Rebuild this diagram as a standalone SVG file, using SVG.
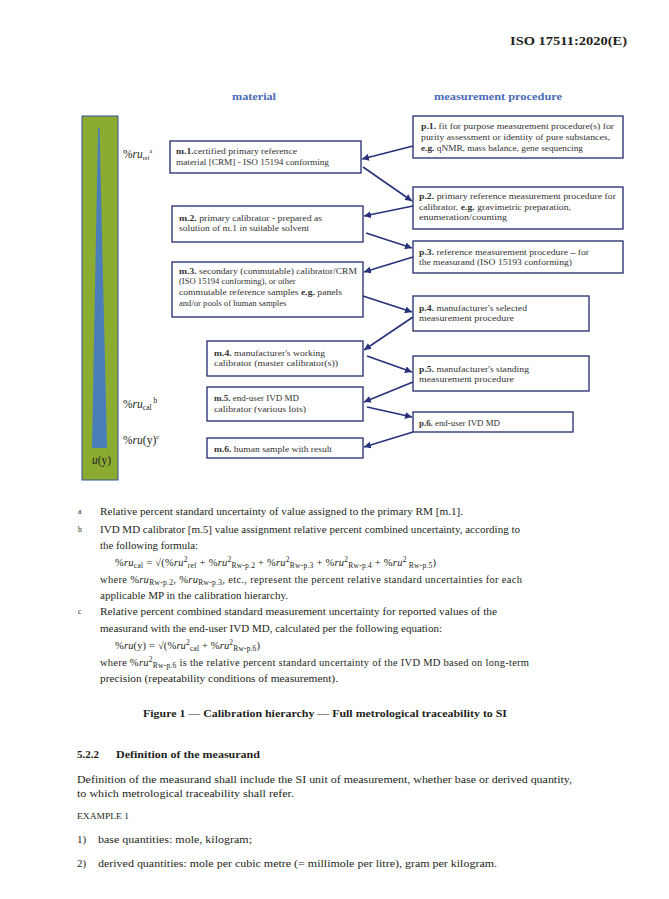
<svg xmlns="http://www.w3.org/2000/svg" width="669" height="899" viewBox="0 0 669 899">
<style>
text{font-family:"Liberation Serif","Times New Roman",serif;fill:#231f20}
.bx{fill:#fff;stroke:#1f2a6e;stroke-width:1.3}
.bt{font-size:8.6px;fill:#333}
.b{font-weight:bold}
.hd{font-size:11px;font-weight:bold;fill:#4a6cb8}
.fn{font-size:10.5px}
.mk{font-size:7.5px}
.lb{font-size:11.5px}
.i{font-style:italic}
.body{font-size:11px}
.con{stroke:#27327a;stroke-width:1.6;fill:none;marker-end:url(#ah)}
</style>
<defs>
<marker id="ah" markerUnits="userSpaceOnUse" markerWidth="8" markerHeight="7" refX="7" refY="3.5" orient="auto">
<path d="M0,0 L7,3.5 L0,7 z" fill="#27327a"/>
</marker>
</defs>
<rect width="669" height="899" fill="#fff"/>
<text x="510" y="45" font-size="13.5" font-weight="bold" textLength="117" lengthAdjust="spacingAndGlyphs">ISO 17511:2020(E)</text>

<text class="hd" x="232" y="100" textLength="44" lengthAdjust="spacingAndGlyphs">material</text>
<text class="hd" x="434" y="100" textLength="128" lengthAdjust="spacingAndGlyphs">measurement procedure</text>

<g id="bar">
<rect x="82" y="116" width="36" height="364" fill="#8cab31" stroke="#2f5597" stroke-width="1"/>
<polygon points="98,128 99.5,128 107,448 92,448" fill="#4a7ebb"/>
<text x="92" y="464" font-size="11.5" textLength="19" lengthAdjust="spacingAndGlyphs"><tspan class="i">u</tspan>(y)</text>
</g>
<g id="labels">
<text class="lb" x="123" y="158">%<tspan class="i">ru</tspan><tspan font-size="6" dy="2">ref</tspan><tspan font-size="6" dy="-7">a</tspan></text>
<text class="lb" x="123" y="408">%<tspan class="i">ru</tspan><tspan font-size="7.5" dy="2">cal</tspan><tspan font-size="7.5" dy="-7"> b</tspan></text>
<text class="lb" x="123" y="444">%<tspan class="i">ru</tspan>(y)<tspan font-size="7" dy="-5">c</tspan></text>
</g>

<g id="m1"><rect class="bx" x="170" y="141" width="191" height="32"/>
<text class="bt" x="176" y="154" textLength="121" lengthAdjust="spacingAndGlyphs"><tspan class="b">m.1.</tspan>certified primary reference</text>
<text class="bt" x="176" y="165" textLength="153" lengthAdjust="spacingAndGlyphs">material [CRM] - ISO 15194 conforming</text></g>

<g id="m2"><rect class="bx" x="172" y="206" width="191" height="36"/>
<text class="bt" x="179" y="221" textLength="143" lengthAdjust="spacingAndGlyphs"><tspan class="b">m.2.</tspan> primary calibrator <tspan class="b">-</tspan> prepared as</text>
<text class="bt" x="179" y="231" textLength="130" lengthAdjust="spacingAndGlyphs">solution of m.1 in suitable solvent</text></g>

<g id="m3"><rect class="bx" x="172" y="262" width="191" height="55"/>
<text class="bt" x="179" y="274" textLength="178" lengthAdjust="spacingAndGlyphs"><tspan class="b">m.3.</tspan> secondary (commutable) calibrator/CRM</text>
<text class="bt" x="179" y="284">(ISO 15194 conforming), or other</text>
<text class="bt" x="179" y="295" textLength="163" lengthAdjust="spacingAndGlyphs">commutable reference samples <tspan class="b">e.g.</tspan> panels</text>
<text class="bt" x="179" y="306">and/or pools of human samples</text></g>

<g id="m4"><rect class="bx" x="207" y="341" width="156" height="35"/>
<text class="bt" x="214" y="356" textLength="111" lengthAdjust="spacingAndGlyphs"><tspan class="b">m.4.</tspan> manufacturer's working</text>
<text class="bt" x="214" y="366" textLength="124" lengthAdjust="spacingAndGlyphs">calibrator (master calibrator(s))</text></g>

<g id="m5"><rect class="bx" x="207" y="387" width="156" height="34"/>
<text class="bt" x="214" y="401" textLength="85" lengthAdjust="spacingAndGlyphs"><tspan class="b">m.5.</tspan> end<tspan class="b">-</tspan>user IVD MD</text>
<text class="bt" x="214" y="412" textLength="92" lengthAdjust="spacingAndGlyphs">calibrator (various lots)</text></g>

<g id="m6"><rect class="bx" x="207" y="438" width="156" height="20"/>
<text class="bt" x="214" y="452" textLength="118" lengthAdjust="spacingAndGlyphs"><tspan class="b">m.6.</tspan> human sample with result</text></g>

<g id="p1"><rect class="bx" x="413" y="116" width="210" height="42"/>
<text class="bt" x="421" y="129" textLength="193" lengthAdjust="spacingAndGlyphs"><tspan class="b">p.1.</tspan> fit for purpose measurement procedure(s) for</text>
<text class="bt" x="421" y="140" textLength="189" lengthAdjust="spacingAndGlyphs">purity assessment or identity of pure substances,</text>
<text class="bt" x="421" y="151" textLength="162" lengthAdjust="spacingAndGlyphs"><tspan class="b">e.g.</tspan> qNMR, mass balance, gene sequencing</text></g>

<g id="p2"><rect class="bx" x="413" y="187" width="210" height="42"/>
<text class="bt" x="419" y="199" textLength="197" lengthAdjust="spacingAndGlyphs"><tspan class="b">p.2.</tspan> primary reference measurement procedure for</text>
<text class="bt" x="419" y="210" textLength="152" lengthAdjust="spacingAndGlyphs">calibrator, <tspan class="b">e.g.</tspan> gravimetric preparation,</text>
<text class="bt" x="419" y="220" textLength="88" lengthAdjust="spacingAndGlyphs">enumeration/counting</text></g>

<g id="p3"><rect class="bx" x="413" y="241" width="210" height="32"/>
<text class="bt" x="419" y="255" textLength="170" lengthAdjust="spacingAndGlyphs"><tspan class="b">p.3.</tspan> reference measurement procedure <tspan class="b">–</tspan> for</text>
<text class="bt" x="419" y="265" textLength="153" lengthAdjust="spacingAndGlyphs">the measurand (ISO 15193 conforming)</text></g>

<g id="p4"><rect class="bx" x="413" y="296" width="176" height="35"/>
<text class="bt" x="419" y="311" textLength="108" lengthAdjust="spacingAndGlyphs"><tspan class="b">p.4.</tspan> manufacturer's selected</text>
<text class="bt" x="419" y="321" textLength="95" lengthAdjust="spacingAndGlyphs">measurement procedure</text></g>

<g id="p5"><rect class="bx" x="413" y="356" width="176" height="35"/>
<text class="bt" x="419" y="372" textLength="110" lengthAdjust="spacingAndGlyphs"><tspan class="b">p.5.</tspan> manufacturer's standing</text>
<text class="bt" x="419" y="382" textLength="95" lengthAdjust="spacingAndGlyphs">measurement procedure</text></g>

<g id="p6"><rect class="bx" x="413" y="412" width="160" height="20"/>
<text class="bt" x="419" y="426" textLength="81" lengthAdjust="spacingAndGlyphs"><tspan class="b">p.6.</tspan> end<tspan class="b">-</tspan>user IVD MD</text></g>

<g id="connectors">
<line class="con" x1="413" y1="146" x2="362" y2="159"/>
<line class="con" x1="363" y1="167" x2="412" y2="201"/>
<line class="con" x1="413" y1="206" x2="364" y2="216"/>
<line class="con" x1="366" y1="233" x2="412" y2="248"/>
<line class="con" x1="413" y1="257" x2="364" y2="272"/>
<line class="con" x1="363" y1="296" x2="412" y2="312"/>
<line class="con" x1="413" y1="317" x2="364" y2="350"/>
<line class="con" x1="367" y1="356" x2="412" y2="372"/>
<line class="con" x1="413" y1="382" x2="364" y2="402"/>
<line class="con" x1="367" y1="407" x2="412" y2="417"/>
<line class="con" x1="413" y1="432" x2="364" y2="447"/>
</g>

<g id="footnotes">
<text class="mk" x="78" y="514">a</text>
<text class="fn" x="100" y="515" textLength="363" lengthAdjust="spacingAndGlyphs">Relative percent standard uncertainty of value assigned to the primary RM [m.1].</text>
<text class="mk" x="78" y="532">b</text>
<text class="fn" x="100" y="533" textLength="420" lengthAdjust="spacingAndGlyphs">IVD MD calibrator [m.5] value assignment relative percent combined uncertainty, according to</text>
<text class="fn" x="100" y="549" textLength="98" lengthAdjust="spacingAndGlyphs">the following formula:</text>
<text class="fn" x="115" y="566" textLength="321" lengthAdjust="spacing">%<tspan class="i">ru</tspan><tspan font-size="7.5" dy="2">cal</tspan><tspan dy="-2"> = √(%</tspan><tspan class="i">ru</tspan><tspan font-size="7.5" dy="-4">2</tspan><tspan font-size="7.5" dy="6">ref</tspan><tspan dy="-2"> + %</tspan><tspan class="i">ru</tspan><tspan font-size="7.5" dy="-4">2</tspan><tspan font-size="7.5" dy="6">Rw-p.2</tspan><tspan dy="-2"> + %</tspan><tspan class="i">ru</tspan><tspan font-size="7.5" dy="-4">2</tspan><tspan font-size="7.5" dy="6">Rw-p.3</tspan><tspan dy="-2"> + %</tspan><tspan class="i">ru</tspan><tspan font-size="7.5" dy="-4">2</tspan><tspan font-size="7.5" dy="6">Rw-p.4</tspan><tspan dy="-2"> + %</tspan><tspan class="i">ru</tspan><tspan font-size="7.5" dy="-4">2 </tspan><tspan font-size="7.5" dy="6">Rw-p.5</tspan><tspan dy="-2">)</tspan></text>
<text class="fn" x="100" y="583" textLength="422" lengthAdjust="spacing">where %<tspan class="i">ru</tspan><tspan font-size="7.5" dy="2">Rw-p.2</tspan><tspan dy="-2">, %</tspan><tspan class="i">ru</tspan><tspan font-size="7.5" dy="2">Rw-p.3</tspan><tspan dy="-2">, etc., represent the percent relative standard uncertainties for each</tspan></text>
<text class="fn" x="100" y="599" textLength="188" lengthAdjust="spacingAndGlyphs">applicable MP in the calibration hierarchy.</text>
<text class="mk" x="78" y="614">c</text>
<text class="fn" x="100" y="615" textLength="397" lengthAdjust="spacingAndGlyphs">Relative percent combined standard measurement uncertainty for reported values of the</text>
<text class="fn" x="100" y="632" textLength="342" lengthAdjust="spacingAndGlyphs">measurand with the end-user IVD MD, calculated per the following equation:</text>
<text class="fn" x="115" y="649" textLength="145" lengthAdjust="spacing">%<tspan class="i">ru</tspan>(y) = √(%<tspan class="i">ru</tspan><tspan font-size="7.5" dy="-4">2</tspan><tspan font-size="7.5" dy="6">cal</tspan><tspan dy="-2"> + %</tspan><tspan class="i">ru</tspan><tspan font-size="7.5" dy="-4">2</tspan><tspan font-size="7.5" dy="6">Rw-p.6</tspan><tspan dy="-2">)</tspan></text>
<text class="fn" x="100" y="666" textLength="429" lengthAdjust="spacing">where %<tspan class="i">ru</tspan><tspan font-size="7.5" dy="-4">2</tspan><tspan font-size="7.5" dy="6">Rw-p.6</tspan><tspan dy="-2"> is the relative percent standard uncertainty of the IVD MD based on long-term</tspan></text>
<text class="fn" x="100" y="682" textLength="238" lengthAdjust="spacingAndGlyphs">precision (repeatability conditions of measurement).</text>
</g>

<text x="143" y="717" font-size="11" font-weight="bold" textLength="364" lengthAdjust="spacingAndGlyphs">Figure 1 — Calibration hierarchy — Full metrological traceability to SI</text>

<text x="77" y="758" font-size="11" font-weight="bold">5.2.2</text>
<text x="116" y="758" font-size="11" font-weight="bold" textLength="144" lengthAdjust="spacingAndGlyphs">Definition of the measurand</text>
<text class="body" x="77" y="783" textLength="495" lengthAdjust="spacingAndGlyphs">Definition of the measurand shall include the SI unit of measurement, whether base or derived quantity,</text>
<text class="body" x="77" y="797" textLength="217" lengthAdjust="spacingAndGlyphs">to which metrological traceability shall refer.</text>
<text x="77" y="819" font-size="9" textLength="52" lengthAdjust="spacingAndGlyphs">EXAMPLE 1</text>
<text class="body" x="77" y="843">1)</text>
<text class="body" x="98" y="843" textLength="154" lengthAdjust="spacingAndGlyphs">base quantities: mole, kilogram;</text>
<text class="body" x="77" y="867">2)</text>
<text class="body" x="98" y="867" textLength="399" lengthAdjust="spacingAndGlyphs">derived quantities: mole per cubic metre (= millimole per litre), gram per kilogram.</text>
</svg>
